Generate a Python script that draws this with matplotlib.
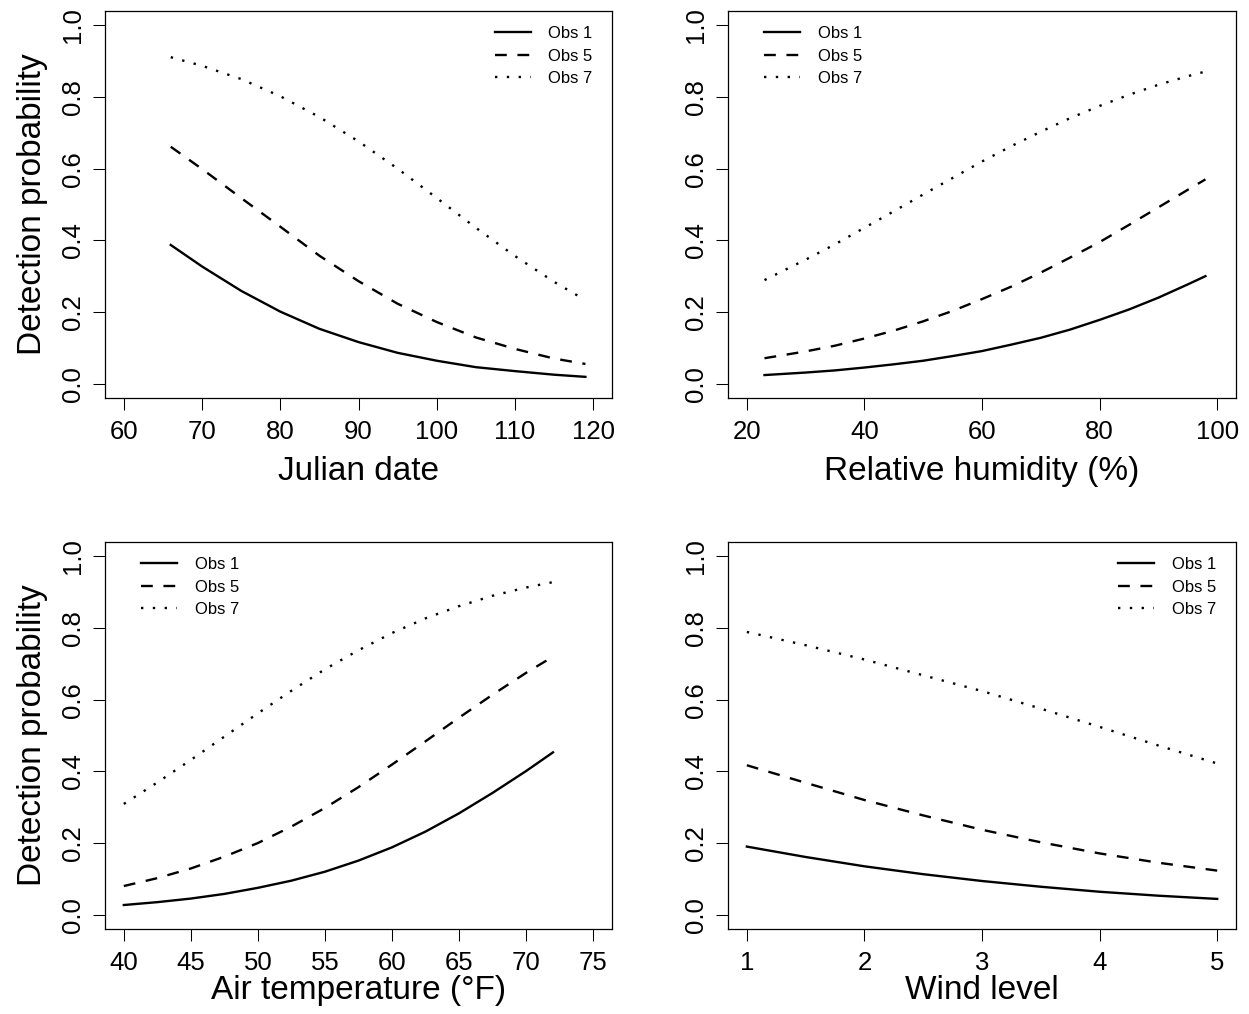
import numpy as np
import matplotlib.pyplot as plt

plt.rcParams['font.family'] = ['Liberation Sans', 'DejaVu Sans']

# values
julian = [66, 70, 75, 80, 85, 90, 95, 100, 105, 110, 115, 119]
julian_obs1 = [0.387, 0.327, 0.259, 0.201, 0.153, 0.116, 0.086, 0.064, 0.046, 0.035, 0.025, 0.019]
julian_obs5 = [0.661, 0.599, 0.518, 0.438, 0.357, 0.286, 0.223, 0.172, 0.129, 0.097, 0.070, 0.055]
julian_obs7 = [0.911, 0.887, 0.850, 0.802, 0.744, 0.676, 0.600, 0.518, 0.435, 0.356, 0.284, 0.233]

humidity = [23, 30, 35, 40, 45, 50, 55, 60, 65, 70, 75, 80, 85, 90, 95, 98]
humidity_obs1 = [0.024, 0.031, 0.037, 0.045, 0.054, 0.064, 0.077, 0.091, 0.109, 0.128,
                 0.151, 0.178, 0.207, 0.240, 0.277, 0.300]
humidity_obs5 = [0.071, 0.090, 0.106, 0.126, 0.148, 0.174, 0.203, 0.236, 0.271, 0.310,
                 0.352, 0.395, 0.443, 0.492, 0.541, 0.570]
humidity_obs7 = [0.289, 0.346, 0.389, 0.435, 0.481, 0.528, 0.574, 0.620, 0.663, 0.703,
                 0.741, 0.775, 0.806, 0.834, 0.858, 0.871]

temperature = [40, 42.5, 45, 47.5, 50, 52.5, 55, 57.5, 60, 62.5, 65, 67.5, 70, 72]
temperature_obs1 = [0.027, 0.035, 0.045, 0.058, 0.075, 0.095, 0.120, 0.151, 0.188, 0.232,
                    0.283, 0.340, 0.401, 0.453]
temperature_obs5 = [0.080, 0.102, 0.129, 0.162, 0.200, 0.246, 0.298, 0.356, 0.419, 0.484,
                    0.550, 0.614, 0.675, 0.720]
temperature_obs7 = [0.309, 0.369, 0.432, 0.497, 0.562, 0.625, 0.685, 0.738, 0.786, 0.827,
                    0.861, 0.890, 0.913, 0.928]

wind = [1, 1.5, 2, 2.5, 3, 3.5, 4, 4.5, 5]
wind_obs1 = [0.190, 0.161, 0.135, 0.113, 0.094, 0.078, 0.064, 0.053, 0.044]
wind_obs5 = [0.417, 0.368, 0.320, 0.277, 0.237, 0.202, 0.171, 0.145, 0.123]
wind_obs7 = [0.789, 0.752, 0.712, 0.668, 0.624, 0.575, 0.524, 0.472, 0.422]

obs_names = ['Obs 1', 'Obs 5', 'Obs 7']
y_ticks = [0.0, 0.2, 0.4, 0.6, 0.8, 1.0]
y_ticklabels = ['0.0', '0.2', '0.4', '0.6', '0.8', '1.0']

panels = [
    (julian, [julian_obs1, julian_obs5, julian_obs7], 'Julian date',
     (60, 120), [60, 70, 80, 90, 100, 110, 120]),
    (humidity, [humidity_obs1, humidity_obs5, humidity_obs7], 'Relative humidity (%)',
     (20, 100), [20, 40, 60, 80, 100]),
    (temperature, [temperature_obs1, temperature_obs5, temperature_obs7], 'Air temperature (°F)',
     (40, 75), [40, 45, 50, 55, 60, 65, 70, 75]),
    (wind, [wind_obs1, wind_obs5, wind_obs7], 'Wind level',
     (1, 5), [1, 2, 3, 4, 5]),
]

# axes boxes in figure fractions, legend anchor x (axes fraction), xlabel pad
boxes = [
    ([0.0841, 0.6075, 0.4059, 0.3817], 0.769, 9),
    ([0.5829, 0.6075, 0.4067, 0.3817], 0.071, 9),
    ([0.0841, 0.0838, 0.4059, 0.3817], 0.071, 0.5),
    ([0.5829, 0.0838, 0.4067, 0.3817], 0.768, 0.5),
]

styles = [dict(linestyle='-'),
          dict(linestyle=(0, (5, 4.5))),
          dict(linestyle=(0, (1, 4)))]

fig = plt.figure(figsize=(12.49, 10.14), dpi=100)

for i, (x, ys, xlabel, xr, xticks) in enumerate(panels):
    rect, lx, xpad = boxes[i]
    ax = fig.add_axes(rect)
    for y, name, st in zip(ys, obs_names, styles):
        ax.plot(x, y, color='black', lw=1.7, label=name, **st)

    pad = (xr[1] - xr[0]) * 0.04
    ax.set_xlim(xr[0] - pad, xr[1] + pad)
    ax.set_ylim(-0.04, 1.04)
    ax.set_xticks(xticks)
    ax.set_xticklabels([str(t) for t in xticks])
    ax.set_yticks(y_ticks)
    ax.set_yticklabels(y_ticklabels, rotation=90, va='center')
    ax.tick_params(length=8.6, width=0.75, labelsize=18.5, direction='out')
    ax.tick_params(axis='x', pad=7)
    ax.tick_params(axis='y', pad=5.5)
    for s in ax.spines.values():
        s.set_linewidth(0.9)
    ax.set_xlabel(xlabel, fontsize=24, labelpad=xpad)
    if i % 2 == 0:
        ax.set_ylabel('Detection probability', fontsize=24, labelpad=10)

    ax.legend(loc='upper left', bbox_to_anchor=(lx, 0.961), frameon=False,
              fontsize=12, handlelength=2.16, handletextpad=1.05,
              labelspacing=0.45, borderpad=0, borderaxespad=0)

plt.savefig('out.png', dpi=100)
